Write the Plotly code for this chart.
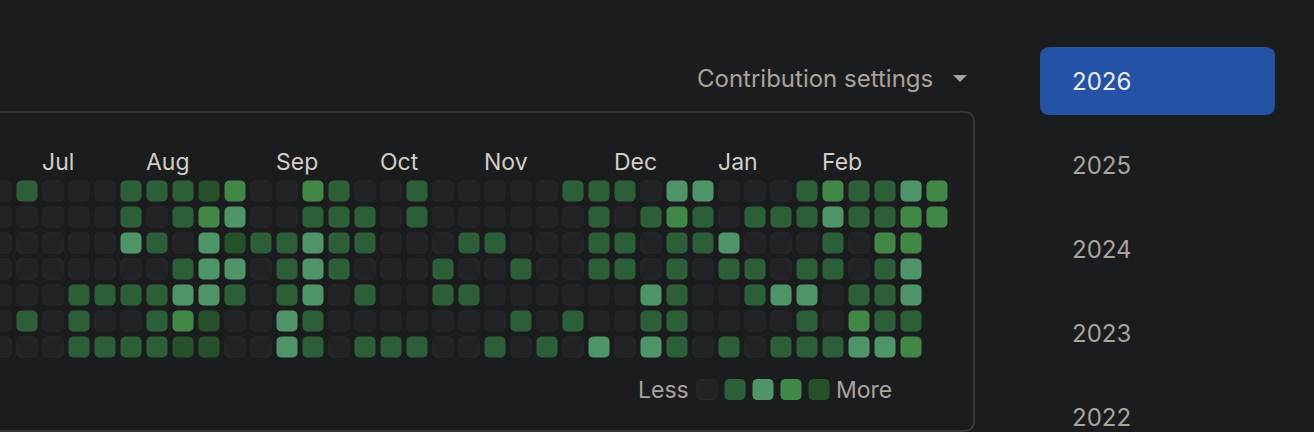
import plotly.graph_objects as go

# ---------------- data ----------------
# weeks are columns (-1 .. 35), rows are weekdays 0..6
week_index = list(range(-1, 36))
# contribution level per cell: 0 = none, 1..4 = legend swatches in order, -1 = no cell
row_0 = [0,1,0,0,0,1,1,1,4,3,0,0,3,1,0,0,1,0,0,0,0,0,1,1,1,0,2,2,0,0,0,1,3,1,1,2,3]
row_1 = [0,0,0,0,0,1,0,1,3,2,0,0,1,1,1,0,1,0,0,0,0,0,0,1,0,1,3,1,0,1,1,1,2,1,1,3,3]
row_2 = [0,0,0,0,0,2,1,0,2,4,1,1,2,1,1,0,0,0,1,1,0,0,0,1,1,0,1,1,2,0,0,0,1,0,3,3,-1]
row_3 = [0,0,0,0,0,0,0,1,2,2,0,1,2,1,0,0,0,1,0,0,1,0,0,1,1,0,1,0,1,1,0,1,1,0,1,2,-1]
row_4 = [0,0,0,1,1,1,1,2,2,1,0,1,2,0,1,0,0,1,1,0,0,0,0,0,0,2,1,0,0,1,2,2,0,1,1,2,-1]
row_5 = [0,1,0,1,0,0,1,3,4,0,0,2,1,0,0,0,0,0,0,0,1,0,1,0,0,1,1,0,0,0,0,1,0,3,1,1,-1]
row_6 = [0,0,0,1,1,1,1,4,4,0,0,2,1,0,1,1,1,0,0,1,0,1,0,2,0,2,1,0,1,0,1,1,1,2,2,3,-1]
grid_rows = [row_0, row_1, row_2, row_3, row_4, row_5, row_6]

month_labels = ["Jul", "Aug", "Sep", "Oct", "Nov", "Dec", "Jan", "Feb"]
month_start_week = [1, 5, 10, 14, 18, 23, 27, 31]

years = ["2026", "2025", "2024", "2023", "2022"]
selected_year = "2026"

# ---------------- style ----------------
BG = "#1b1c1e"
level_fill = ["#222326", "#2c5e38", "#4f9569", "#418745", "#25502a"]
level_line = ["#2a2b2e", "#2f6239", "#52986b", "#448a48", "#28532d"]
TEXT_LIGHT = "#d2cec7"
TEXT_MUTED = "#a8a39b"
FONT = "Inter"
PAD = 3                        # annotation inner padding compensation (px)

W, H = 1314, 432
PX = 26.0                      # pixels per week / per weekday
HALF = 10 / PX                 # half cell size in data units
RAD = 4 / PX                   # corner radius in data units


def rounded_rect(cx, cy, half, rad, n=5):
    import math
    xs, ys = [], []
    corners = [(cx + half - rad, cy - half + rad, -90, 0),
               (cx + half - rad, cy + half - rad, 0, 90),
               (cx - half + rad, cy + half - rad, 90, 180),
               (cx - half + rad, cy - half + rad, 180, 270)]
    for (ox, oy, a0, a1) in corners:
        for i in range(n + 1):
            a = math.radians(a0 + (a1 - a0) * i / n)
            xs.append(ox + rad * math.cos(a))
            ys.append(oy + rad * math.sin(a))
    xs.append(xs[0]); ys.append(ys[0])
    return xs, ys


fig = go.Figure()

for lvl in range(5):
    X, Y = [], []
    for r, row in enumerate(grid_rows):
        for k, v in zip(week_index, row):
            if v == lvl:
                xs, ys = rounded_rect(k, r, HALF, RAD)
                X += xs + [None]
                Y += ys + [None]
    fig.add_trace(go.Scatter(x=X, y=Y, mode="lines", fill="toself",
                             fillcolor=level_fill[lvl],
                             line=dict(color=level_line[lvl], width=1),
                             hoverinfo="skip", showlegend=False))

# dummy trace for the pixel overlay axes
fig.add_trace(go.Scatter(x=[None], y=[None], xaxis="x2", yaxis="y2",
                         showlegend=False, hoverinfo="skip"))

# axes: 26 px per unit; week k centre at 27 + 26k px, row r centre at 191 + 26r px
x0 = -27 / PX
y0 = -191 / PX
fig.update_layout(
    width=W, height=H,
    margin=dict(l=0, r=0, t=0, b=0),
    paper_bgcolor=BG, plot_bgcolor=BG,
    xaxis=dict(range=[x0, x0 + W / PX], visible=False, fixedrange=True),
    yaxis=dict(range=[y0 + H / PX, y0], visible=False, fixedrange=True),
    xaxis2=dict(range=[0, W], overlaying="x", visible=False),
    yaxis2=dict(range=[H, 0], overlaying="y", visible=False),
    showlegend=False,
)

shapes = []
# card border
shapes.append(dict(type="path", xref="x2", yref="y2",
                   path="M -20 112 L 964 112 Q 974 112 974 122 L 974 421 Q 974 431 964 431 L -20 431",
                   line=dict(color="#3b3d40", width=1.5), fillcolor="rgba(0,0,0,0)", layer="below"))
# dropdown triangle
shapes.append(dict(type="path", xref="x2", yref="y2",
                   path="M 953 75 L 967 75 L 960 82 Z",
                   line=dict(width=0), fillcolor=TEXT_MUTED))
# selected year button
shapes.append(dict(type="path", xref="x2", yref="y2",
                   path="M 1050 47 L 1265 47 Q 1275 47 1275 57 L 1275 105 Q 1275 115 1265 115 "
                        "L 1050 115 Q 1040 115 1040 105 L 1040 57 Q 1040 47 1050 47 Z",
                   line=dict(width=0), fillcolor="#2453a6", layer="below"))

# legend swatches
for i in range(5):
    cx = 707 + 28 * i
    cy = 389.5
    h, rr = 10, 4
    p = (f"M {cx-h+rr} {cy-h} L {cx+h-rr} {cy-h} Q {cx+h} {cy-h} {cx+h} {cy-h+rr} "
         f"L {cx+h} {cy+h-rr} Q {cx+h} {cy+h} {cx+h-rr} {cy+h} L {cx-h+rr} {cy+h} "
         f"Q {cx-h} {cy+h} {cx-h} {cy+h-rr} L {cx-h} {cy-h+rr} Q {cx-h} {cy-h} {cx-h+rr} {cy-h} Z")
    shapes.append(dict(type="path", xref="x2", yref="y2", path=p,
                       line=dict(color=level_line[i], width=1), fillcolor=level_fill[i]))
fig.update_layout(shapes=shapes)

ann = []
for m, k in zip(month_labels, month_start_week):
    ann.append(dict(x=k - HALF - PAD / PX, y=-1.11, xref="x", yref="y", text=m, showarrow=False,
                    xanchor="left", yanchor="middle",
                    font=dict(family=FONT, size=23, color=TEXT_LIGHT)))
ann.append(dict(x=698 - PAD, y=78, xref="x2", yref="y2", text="Contribution settings", showarrow=False,
                xanchor="left", yanchor="middle", font=dict(family=FONT, size=24, color=TEXT_MUTED)))
ann.append(dict(x=688 + PAD, y=390, xref="x2", yref="y2", text="Less", showarrow=False,
                xanchor="right", yanchor="middle", font=dict(family=FONT, size=23, color=TEXT_MUTED)))
ann.append(dict(x=837 - PAD, y=390, xref="x2", yref="y2", text="More", showarrow=False,
                xanchor="left", yanchor="middle", font=dict(family=FONT, size=23, color=TEXT_MUTED)))
for i, yr in enumerate(years):
    ann.append(dict(x=1073 - PAD, y=81 + 84 * i, xref="x2", yref="y2", text=yr, showarrow=False,
                    xanchor="left", yanchor="middle",
                    font=dict(family=FONT, size=24,
                              color="#ececec" if yr == selected_year else TEXT_MUTED)))
fig.update_layout(annotations=ann)

fig.write_html("out.html", config={"displayModeBar": False},
               post_script="document.body.style.margin='0px';document.body.style.background='#1b1c1e';")
